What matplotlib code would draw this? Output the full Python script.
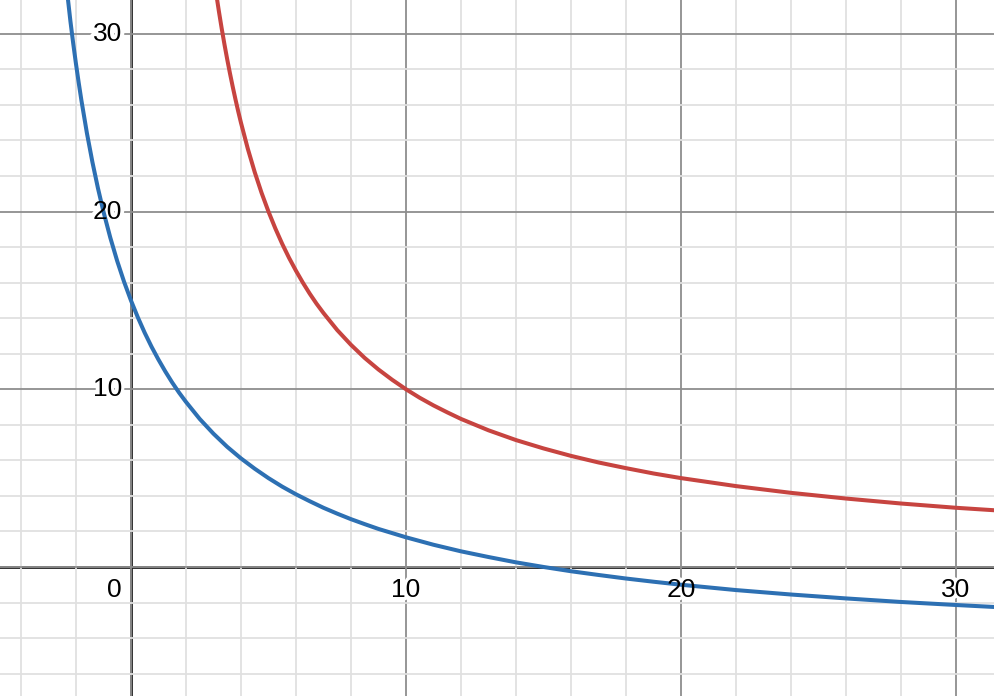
import matplotlib
matplotlib.use("Agg")
import matplotlib.pyplot as plt
import matplotlib.patheffects as pe
from matplotlib.ticker import MultipleLocator

# Values
red_x = [3.0, 3.1, 3.2, 3.3, 3.4, 3.5, 3.6, 3.7, 3.8, 3.9, 4.0, 4.25, 4.5, 4.75, 5.0, 5.25, 5.5, 5.75,
         6.0, 6.25, 6.5, 6.75, 7.0, 7.5, 8.0, 8.5, 9.0, 9.5, 10.0, 10.5,
         11.0, 11.5, 12.0, 13.0, 14.0, 15.0, 16.0, 17.0, 18.0, 19.0, 20.0, 22.0, 24.0, 26.0, 28.0, 30.0, 32.0]
red_y = [33.33, 32.26, 31.25, 30.30, 29.41, 28.57, 27.78, 27.03, 26.32, 25.64, 25.0, 23.53, 22.22, 21.05, 20.0, 19.05, 18.18, 17.39,
         16.67, 16.0, 15.38, 14.81, 14.29, 13.33, 12.5, 11.76, 11.11, 10.53, 10.0, 9.52,
         9.09, 8.70, 8.33, 7.69, 7.14, 6.67, 6.25, 5.88, 5.56, 5.26, 5.0, 4.55, 4.17, 3.85, 3.57, 3.33, 3.13]

blue_x = [-2.4, -2.2, -2.1, -2.0, -1.9, -1.8, -1.6, -1.4, -1.2, -1.0, -0.75, -0.5, -0.25, 0.0, 0.25, 0.5, 0.75,
          1.0, 1.25, 1.5, 1.75, 2.0, 2.5, 3.0, 3.5, 4.0, 4.5, 5.0, 5.5, 6.0, 6.5, 7.0, 7.5, 8.0, 8.5, 9.0,
          10.0, 11.0, 12.0, 13.0, 14.0, 15.0, 16.0, 17.0, 18.0, 19.0, 20.0, 22.0, 24.0, 26.0, 28.0, 30.0, 32.0]
blue_y = [33.46, 30.71, 29.48, 28.33, 27.26, 26.25, 24.41, 22.78, 21.32, 20.0, 18.53, 17.22, 16.05, 15.0, 14.05, 13.18, 12.39,
          11.67, 11.0, 10.38, 9.81, 9.29, 8.33, 7.5, 6.76, 6.11, 5.53, 5.0, 4.52, 4.09, 3.70, 3.33, 3.0, 2.69, 2.41, 2.14,
          1.67, 1.25, 0.88, 0.56, 0.26, 0.0, -0.24, -0.45, -0.65, -0.83, -1.0, -1.30, -1.55, -1.77, -1.97, -2.14, -2.30]

x_ticks = [10, 20, 30]
y_ticks = [10, 20, 30]

plt.rcParams['font.family'] = ['Liberation Sans', 'DejaVu Sans']

fig = plt.figure(figsize=(9.94, 6.96), dpi=100)
ax = fig.add_axes([0, 0, 1, 1])
ax.set_xlim(-4.76, 31.38)
ax.set_ylim(-7.26, 31.9)

ax.xaxis.set_major_locator(MultipleLocator(10))
ax.xaxis.set_minor_locator(MultipleLocator(2))
ax.yaxis.set_major_locator(MultipleLocator(10))
ax.yaxis.set_minor_locator(MultipleLocator(2))
ax.grid(which='minor', color='#e0e0e0', linewidth=1.3, zorder=0)
ax.grid(which='major', color='#8e8e8e', linewidth=1.3, zorder=0.5)
ax.tick_params(which='both', length=0, labelbottom=False, labelleft=False)
for s in ax.spines.values():
    s.set_visible(False)

ax.axhline(0, color='#1e1e1e', linewidth=2.0, zorder=1)
ax.axvline(0, color='#1e1e1e', linewidth=2.0, zorder=1)

ax.plot(red_x, red_y, color='#c74440', linewidth=2.9, zorder=3,
        solid_capstyle='round', solid_joinstyle='round')
ax.plot(blue_x, blue_y, color='#2d70b3', linewidth=2.9, zorder=3,
        solid_capstyle='round', solid_joinstyle='round')

halo = [pe.withStroke(linewidth=5, foreground='white')]


def label(x, y, s, ha):
    # white halo under the curves, black glyphs above them
    ax.text(x, y, s, ha=ha, va='center', fontsize=19, color='white',
            path_effects=halo, zorder=2)
    ax.text(x, y, s, ha=ha, va='center', fontsize=19, color='black', zorder=4)


for t in x_ticks:
    label(t, -1.29, str(t), 'center')
for t in y_ticks:
    label(-0.33, t, str(t), 'right')
label(-0.33, -1.29, '0', 'right')

fig.savefig('out.png', dpi=100)
